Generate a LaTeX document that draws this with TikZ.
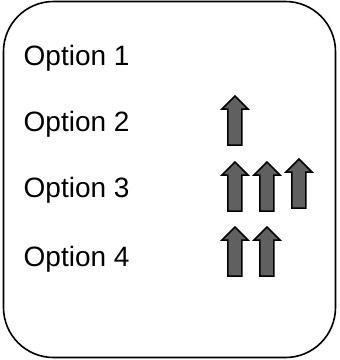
\documentclass[tikz,border=0pt]{standalone}
\usepackage{fontspec}
\setmainfont{Liberation Sans}
\definecolor{arrowgray}{HTML}{606060}
\begin{document}
\begin{tikzpicture}[x=1pt,y=-1pt,
  opt/.style={anchor=base west,inner sep=0pt,font=\fontsize{28}{34}\selectfont},
  uparrow/.pic={\draw[line width=1.5pt,fill=arrowgray,line join=miter]
     (-7,0) -- (-7,-36) -- (-13,-36) -- (0,-49) -- (13,-36) -- (7,-36) -- (7,0) -- cycle;}]
\useasboundingbox (0,0) rectangle (340,360);
\draw[line width=1.6pt,rounded corners=50pt] (3.5,1.5) rectangle (335.5,357.5);
\node[opt] (o1) at (23.5,65) {Option 1};
\node[opt] (o2) at (23.5,131) {Option 2};
\node[opt] (o3) at (23.5,197) {Option 3};
\node[opt] (o4) at (23.5,266) {Option 4};
\pic at (235,145) {uparrow};
\pic at (235,211) {uparrow};
\pic at (267,211) {uparrow};
\pic at (299,208) {uparrow};
\pic at (235,276) {uparrow};
\pic at (267,276) {uparrow};
\end{tikzpicture}
\end{document}
